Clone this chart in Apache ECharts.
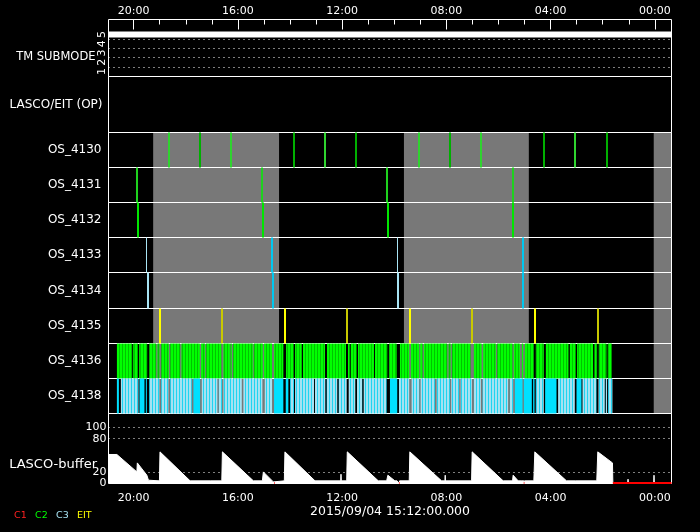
<!DOCTYPE html>
<html><head><meta charset="utf-8">
<script src="https://cdn.jsdelivr.net/npm/echarts@6/dist/echarts.min.js"></script>
<style>html,body{margin:0;padding:0;background:#000;}#c{width:700px;height:532px;}</style>
</head><body><div id="c"></div>
<script>
// ---------------- DATA (x = hours after the "20:00" tick, increasing to the right) ----------------
const xMin = -0.966, xMax = 20.64;
const tickHours = [0, 4, 8, 12, 16, 20];
const tickLabels = ['20:00', '16:00', '12:00', '08:00', '04:00', '00:00'];
const minorTickHours = [1, 2, 3, 5, 6, 7, 9, 10, 11, 13, 14, 15, 17, 18, 19];
const dateLabel = '2015/09/04 15:12:00.000';

const tmLevels = [1, 2, 3, 4, 5];
const tmGridLevels = [1.5, 2.5, 3.5, 4.5];
const tmTimes = [-0.966, 20.64];
const tmValues = [5, 5];

const panelLabels = ['TM SUBMODE', 'LASCO/EIT (OP)', 'LASCO-buffer'];
const rowNames = ['OS_4130', 'OS_4131', 'OS_4132', 'OS_4133', 'OS_4134', 'OS_4135', 'OS_4136', 'OS_4138'];
const grayPeriods = [[0.748, 5.579], [10.372, 15.165], [19.958, 20.64]];

const os4130Bright = [1.373, 3.750, 7.354, 10.959, 13.336, 16.941];
const os4130Dark = [2.561, 6.166, 8.543, 12.147, 15.752, 18.167];
const os4131Times = [0.146, 4.939, 9.732, 14.563];
const os4132Times = [0.173, 4.954, 9.770, 14.563];
const os4133Pale = [0.491, 10.115];
const os4133Cyan = [5.322, 14.923];
const os4134Pale = [0.556, 10.142];
const os4134Cyan = [5.337, 14.935];
const os4135Yellow = [1.016, 5.809, 10.602, 15.395];
const os4135Olive = [3.393, 8.186, 12.991, 17.811];

const os4136Spans = [[-0.644,-0.058],[-0.019,0.161],[0.211,0.518],[0.594,0.863],[0.913,0.989],[1.054,1.350],[1.400,1.783],[1.833,2.538],[2.588,2.742],[2.780,3.367],[3.443,3.689],[3.712,3.765],[3.815,4.571],[4.609,4.954],[5.004,5.311],[5.387,5.744],[5.848,6.143],[6.193,6.450],[6.499,7.343],[7.419,8.148],[8.224,8.290],[8.328,8.558],[8.608,9.221],[9.260,9.732],[9.797,10.092],[10.219,10.575],[10.640,10.959],[10.997,11.089],[11.139,12.032],[12.086,12.163],[12.212,12.929],[13.056,13.351],[13.413,13.900],[13.949,14.540],[14.590,14.820],[14.896,14.946],[15.011,15.357],[15.433,15.740],[15.817,16.687],[16.737,16.967],[17.017,17.630],[17.684,17.784],[17.849,18.144],[18.194,18.347]];
const os4138Pale = [[-0.491,0.184],[0.594,0.989],[1.054,1.334],[1.400,2.232],[2.615,3.213],[3.267,3.393],[3.443,4.149],[4.210,4.939],[5.031,5.311],[6.001,6.154],[6.193,6.922],[6.959,7.354],[7.408,7.814],[7.868,8.175],[8.252,8.505],[8.570,8.773],[8.827,9.709],[10.180,10.575],[10.667,10.959],[11.012,11.561],[11.626,12.136],[12.186,12.492],[12.546,12.979],[13.056,13.324],[13.390,14.371],[14.436,14.563],[15.433,15.740],[16.288,16.929],[17.224,17.761],[17.837,18.079],[18.117,18.167],[18.206,18.374]];
const os4138Cyan = [[-0.644,-0.567],[0.222,0.414],[0.468,0.506],[2.293,2.550],[5.387,5.744],[5.836,5.936],[9.835,10.115],[14.628,14.923],[14.973,15.280],[15.330,15.383],[15.790,16.227],[16.994,17.186]];

const bufferTicks = [0, 20, 80, 100];
const bufferGridLevels = [20, 80, 100];
const bufferTimes = [-0.966,-0.644,0.123,0.140,0.184,0.506,0.567,0.590,0.989,1.010,2.166,2.960,2.972,2.984,3.382,3.405,4.594,4.939,4.977,5.360,5.399,5.426,5.782,5.805,6.959,7.945,7.956,7.968,8.175,8.198,9.387,9.709,9.755,10.023,10.107,10.115,10.123,10.180,10.192,10.204,10.575,10.598,11.817,11.944,11.956,11.968,12.968,12.990,14.180,14.540,14.563,14.755,14.896,14.908,14.920,14.973,14.985,14.997,15.357,15.395,16.610,16.966,16.978,16.990,17.772,17.811,18.374,18.390,18.960,18.972,18.984,19.957,19.969,19.981,20.64];
const bufferValues = [51.8,51.8,20.7,36.8,36.8,14.8,5.9,4.7,4.7,56.5,4.7,4.7,8.0,4.7,4.7,56.5,4.7,4.7,20.7,2.9,0,4.7,4.7,56.5,4.7,4.7,16.6,4.7,4.7,56.5,4.7,4.7,14.8,4.7,4.7,7.7,4.7,4.7,0,4.7,4.7,56.5,4.7,4.7,14.8,4.7,4.7,56.5,4.7,4.7,14.8,4.7,4.7,7.7,4.7,4.7,0,4.7,4.7,56.5,4.7,4.7,7.7,4.7,4.7,56.5,36.8,0,0,7.7,0,0,14.8,0,0];
const bufferMissing = [[5.385,5.410],[10.180,10.205],[14.970,14.995],[18.390,20.64]];

const legendNames = ['C1', 'C2', 'C3', 'EIT'];

// ---------------- LAYOUT & STYLE ----------------
const FONT = 'DejaVu Sans';
const LEFT = 108.5, WIDTH = 563;
const gridTops = [19.5, 76.5, 132.5, 167.5, 202.5, 237.5, 272.5, 308.5, 343.5, 378.5, 413.5, 483.5];
const legendColors = ['#ff2020', '#00ff00', '#a8e4f4', '#ffff00'];
const legendLefts = [14, 35, 56, 77];

function stripe(a, b) {
  const cv = document.createElement('canvas');
  cv.width = 3; cv.height = 4;
  const g = cv.getContext('2d');
  g.fillStyle = a; g.fillRect(0, 0, 2, 4);
  g.fillStyle = b; g.fillRect(2, 0, 1, 4);
  return { image: cv, repeat: 'repeat' };
}
const greenFill = stripe('#00ff00', '#00c400');
const paleFill = stripe('#a4e2f2', '#20d4f0');

function vlines(width, color) {
  return function (params, api) {
    const cs = params.coordSys;
    const x = api.coord([api.value(0), 0])[0];
    return { type: 'rect', shape: { x: Math.round(x - width / 2), y: cs.y, width: width, height: cs.height }, style: { fill: color } };
  };
}
function spans(fill) {
  return function (params, api) {
    const cs = params.coordSys;
    let x0 = api.coord([api.value(0), 0])[0];
    let x1 = api.coord([api.value(1), 0])[0];
    x0 = Math.max(x0, cs.x); x1 = Math.min(x1, cs.x + cs.width);
    if (x1 <= x0) return null;
    return { type: 'rect', shape: { x: x0, y: cs.y, width: x1 - x0, height: cs.height }, style: { fill: fill } };
  };
}
function redSeg(params, api) {
  const cs = params.coordSys;
  const p0 = api.coord([api.value(0), 0]);
  const p1 = api.coord([api.value(1), 0]);
  return { type: 'line', shape: { x1: Math.max(p0[0], cs.x), y1: p0[1] - 0.5, x2: Math.min(p1[0], cs.x + cs.width), y2: p0[1] - 0.5 }, style: { stroke: '#ff0000', lineWidth: 2 } };
}

const grids = [];
for (let i = 0; i < 11; i++) {
  grids.push({ left: LEFT, width: WIDTH, top: gridTops[i], height: gridTops[i + 1] - gridTops[i],
    show: true, borderColor: '#fff', borderWidth: 1, backgroundColor: 'transparent', outerBoundsMode: 'none', containLabel: false });
}

const labelFmt = v => { const k = tickHours.indexOf(Math.round(v)); return k >= 0 ? tickLabels[k] : ''; };
const xAxes = [];
xAxes.push({ type: 'value', gridIndex: 0, position: 'top', min: xMin, max: xMax,
  axisLine: { show: false }, splitLine: { show: false },
  axisTick: { show: true, inside: true, length: 10, customValues: tickHours, lineStyle: { color: '#fff', width: 1 } },
  axisLabel: { show: true, customValues: tickHours, formatter: labelFmt, color: '#fff', fontSize: 11, fontFamily: FONT, margin: 3 } });
xAxes.push({ type: 'value', gridIndex: 0, position: 'top', min: xMin, max: xMax,
  axisLine: { show: false }, splitLine: { show: false }, axisLabel: { show: false },
  axisTick: { show: true, inside: true, length: 5, customValues: minorTickHours, lineStyle: { color: '#fff', width: 1 } } });
for (let g = 1; g <= 9; g++) xAxes.push({ type: 'value', gridIndex: g, min: xMin, max: xMax, show: false });
xAxes.push({ type: 'value', gridIndex: 10, position: 'bottom', min: xMin, max: xMax,
  axisLine: { show: false }, axisTick: { show: false }, splitLine: { show: false },
  axisLabel: { show: true, customValues: tickHours, formatter: labelFmt, color: '#fff', fontSize: 11, fontFamily: FONT, margin: 9 },
  name: dateLabel, nameLocation: 'middle', nameGap: 22, nameMoveOverlap: false, nameTextStyle: { color: '#fff', fontSize: 12.5, fontFamily: FONT } });

const nameStyle = () => ({ color: '#fff', fontSize: 12, fontFamily: FONT, align: 'right', verticalAlign: 'middle' });
const yAxes = [];
yAxes.push({ type: 'value', gridIndex: 0, min: 0.47, max: 6.6, axisLine: { show: false }, axisTick: { show: false }, splitLine: { show: false },
  axisLabel: { show: true, customValues: tmLevels, rotate: 90, margin: 1, color: '#fff', fontSize: 11, fontFamily: FONT, formatter: v => String(Math.round(v)) } });
yAxes.push({ type: 'value', gridIndex: 1, min: 0, max: 1, axisLine: { show: false }, axisTick: { show: false }, splitLine: { show: false }, axisLabel: { show: false },
  name: panelLabels[1], nameLocation: 'middle', nameRotate: 0, nameGap: 6, nameMoveOverlap: false, nameTextStyle: nameStyle() });
rowNames.forEach((n, i) => yAxes.push({ type: 'value', gridIndex: 2 + i, min: 0, max: 1, axisLine: { show: false }, axisTick: { show: false }, splitLine: { show: false }, axisLabel: { show: false },
  name: n, nameLocation: 'middle', nameRotate: 0, nameGap: 7, nameMoveOverlap: false, nameTextStyle: nameStyle() }));
yAxes.push({ type: 'value', gridIndex: 10, min: 0, max: 125, axisLine: { show: false }, axisTick: { show: false }, splitLine: { show: false },
  axisLabel: { show: true, customValues: bufferTicks, margin: 2, color: '#fff', fontSize: 11, fontFamily: FONT } });

const dotted = { color: '#fff', type: [1, 4], width: 1 };
const series = [];
series.push({ type: 'line', xAxisIndex: 0, yAxisIndex: 0, data: tmTimes.map((t, i) => [t, tmValues[i]]), symbol: 'none', silent: true,
  lineStyle: { color: '#fff', width: 6 },
  markLine: { silent: true, symbol: 'none', label: { show: false }, lineStyle: dotted, data: tmGridLevels.map(v => ({ yAxis: v })) } });

for (let r = 0; r < 8; r++) {
  series.push({ type: 'custom', xAxisIndex: 3 + r, yAxisIndex: 2 + r, z: -1, silent: true, data: grayPeriods, renderItem: spans('#787878') });
}
function addLines(r, arr, width, color) {
  series.push({ type: 'custom', xAxisIndex: 3 + r, yAxisIndex: 2 + r, silent: true, data: arr.map(t => [t, 0]), renderItem: vlines(width, color) });
}
function addSpans(r, arr, fill) {
  series.push({ type: 'custom', xAxisIndex: 3 + r, yAxisIndex: 2 + r, silent: true, data: arr, renderItem: spans(fill) });
}
addLines(0, os4130Bright, 2, '#2fd42f');
addLines(0, os4130Dark, 2, '#00b000');
addLines(1, os4131Times, 2, '#1ed21e');
addLines(2, os4132Times, 2, '#00e600');
addLines(3, os4133Pale, 1, '#a8e4f4');
addLines(3, os4133Cyan, 2, '#00c8f0');
addLines(4, os4134Pale, 2, '#a8e4f4');
addLines(4, os4134Cyan, 2, '#00c8f0');
addLines(5, os4135Yellow, 2, '#ffff00');
addLines(5, os4135Olive, 2, '#c8c800');
addSpans(6, os4136Spans, greenFill);
addSpans(7, os4138Pale, paleFill);
addSpans(7, os4138Cyan, '#00e0ff');

series.push({ type: 'line', xAxisIndex: 11, yAxisIndex: 10, data: bufferTimes.map((t, i) => [t, bufferValues[i]]), symbol: 'none', silent: true,
  lineStyle: { color: '#fff', width: 1 }, areaStyle: { color: '#fff', opacity: 1 },
  markLine: { silent: true, symbol: 'none', label: { show: false }, lineStyle: dotted, data: bufferGridLevels.map(v => ({ yAxis: v })) } });
series.push({ type: 'custom', xAxisIndex: 11, yAxisIndex: 10, z: 5, silent: true, data: bufferMissing, renderItem: redSeg });

const graphics = legendNames.map((n, i) => ({ type: 'text', left: legendLefts[i], top: 511, silent: true,
  style: { text: n, fill: legendColors[i], font: '9.5px "' + FONT + '"' } }));
graphics.push({ type: 'text', x: 95.5, y: 57.5, silent: true,
  style: { text: panelLabels[0], fill: '#fff', font: '11.5px "' + FONT + '"', align: 'right', verticalAlign: 'middle', textAlign: 'right', textVerticalAlign: 'middle' } });
graphics.push({ type: 'text', x: 97, y: 465, silent: true,
  style: { text: panelLabels[2], fill: '#fff', font: '13px "' + FONT + '"', align: 'right', verticalAlign: 'middle', textAlign: 'right', textVerticalAlign: 'middle' } });

const chart = echarts.init(document.getElementById('c'), null, { renderer: 'canvas' });
chart.setOption({
  backgroundColor: '#000',
  animation: false,
  grid: grids,
  xAxis: xAxes,
  yAxis: yAxes,
  series: series,
  graphic: graphics
});
</script></body></html>
